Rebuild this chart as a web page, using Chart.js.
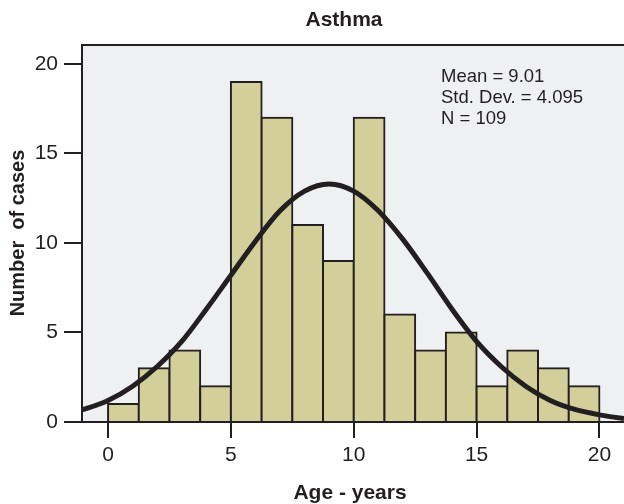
<!DOCTYPE html>
<html>
<head>
<meta charset="utf-8">
<script src="https://cdn.jsdelivr.net/npm/chart.js@4/dist/chart.umd.min.js"></script>
<style>
  html, body { margin: 0; padding: 0; background: #fff; }
  #wrap { width: 624px; height: 504px; }
</style>
</head>
<body>
<div id="wrap"><canvas id="myChart" width="624" height="504"></canvas></div>
<script>
// histogram bins (centres, width 1.25 years) and counts
var binCenters = [0.625, 1.875, 3.125, 4.375, 5.625, 6.875, 8.125, 9.375,
                  10.625, 11.875, 13.125, 14.375, 15.625, 16.875, 18.125, 19.375];
var counts = [1, 3, 4, 2, 19, 17, 11, 9, 17, 6, 4, 5, 2, 4, 3, 2];

// normal curve
var curveX = [-2, -1, 0, 1, 2, 3, 4, 5, 6, 7, 8, 9, 10, 11, 12, 13, 14, 15, 16, 17, 18, 19, 20, 21, 22];
var curveY = [0.3, 0.7, 1.2, 2.0, 3.1, 4.5, 6.3, 8.2, 10.1, 11.8, 12.9, 13.3, 12.9, 11.8, 10.2, 8.3, 6.3, 4.5, 3.1, 2.0, 1.2, 0.7, 0.4, 0.2, 0.1];

var xTicks = [0, 5, 10, 15, 20];
var yTicks = [0, 5, 10, 15, 20];
var stats = ['Mean = 9.01', 'Std. Dev. = 4.095', 'N = 109'];

var dark = '#231f20';
var font = '"Liberation Sans", Arial, sans-serif';

var barData = [];
for (var i = 0; i < binCenters.length; i++) {
    barData.push({ x: binCenters[i], y: counts[i] });
}
var lineData = [];
for (var j = 0; j < curveX.length; j++) {
    lineData.push({ x: curveX[j], y: curveY[j] });
}

const decor = {
    id: 'decor',
    beforeDraw: function(chart) {
        const ctx = chart.ctx;
        const a = chart.chartArea;
        ctx.save();
        ctx.fillStyle = '#eff0f2';
        ctx.fillRect(a.left, a.top, a.right - a.left, a.bottom - a.top);
        ctx.strokeStyle = dark;
        ctx.lineWidth = 2;
        ctx.beginPath();
        ctx.moveTo(a.left, a.top);
        ctx.lineTo(a.right, a.top);
        ctx.stroke();
        ctx.restore();
    },
    afterDraw: function(chart) {
        const ctx = chart.ctx;
        ctx.save();
        ctx.fillStyle = dark;
        ctx.textBaseline = 'middle';

        ctx.font = 'bold 21px ' + font;
        ctx.textAlign = 'center';
        ctx.fillText('Asthma', 344, 20);
        ctx.fillText('Age - years', 350, 493);

        ctx.save();
        ctx.font = 'bold 20px ' + font;
        ctx.translate(18, 233);
        ctx.rotate(-Math.PI / 2);
        ctx.fillText('Number  of cases', 0, 0);
        ctx.restore();

        ctx.font = '18.5px ' + font;
        ctx.textAlign = 'left';
        for (var k = 0; k < stats.length; k++) {
            ctx.fillText(stats[k], 441, 77 + k * 21);
        }
        ctx.restore();
    }
};

const ctx = document.getElementById('myChart').getContext('2d');
const myChart = new Chart(ctx, {
    type: 'bar',
    data: {
        datasets: [{
            type: 'line',
            data: lineData,
            borderColor: dark,
            borderWidth: 5,
            pointRadius: 0,
            fill: false,
            cubicInterpolationMode: 'monotone',
            order: 0
        }, {
            type: 'bar',
            data: barData,
            backgroundColor: '#d3cf9a',
            borderColor: dark,
            borderWidth: 2,
            inflateAmount: 1,
            barPercentage: 1,
            categoryPercentage: 1,
            order: 1
        }]
    },
    options: {
        responsive: false,
        animation: false,
        layout: { padding: { top: 45, left: 0, right: 0, bottom: 0 } },
        plugins: {
            legend: { display: false },
            title: { display: false },
            tooltip: { enabled: false }
        },
        scales: {
            x: {
                type: 'linear',
                offset: false,
                min: -1.06,
                max: 21,
                afterFit: function(scale) { scale.height = 82; },
                afterBuildTicks: function(scale) {
                    scale.ticks = xTicks.map(function(v) { return { value: v }; });
                },
                grid: {
                    offset: false,
                    drawOnChartArea: false,
                    drawTicks: true,
                    tickLength: 16,
                    color: dark,
                    lineWidth: 2
                },
                border: { display: true, color: dark, width: 2 },
                ticks: {
                    color: dark,
                    padding: 5,
                    font: { family: font, size: 21 }
                }
            },
            y: {
                min: 0,
                max: 21.06,
                afterFit: function(scale) { scale.width = 82; },
                afterBuildTicks: function(scale) {
                    scale.ticks = yTicks.map(function(v) { return { value: v }; });
                },
                grid: {
                    drawOnChartArea: false,
                    drawTicks: true,
                    tickLength: 18,
                    color: dark,
                    lineWidth: 2
                },
                border: { display: true, color: dark, width: 2 },
                ticks: {
                    color: dark,
                    padding: 6,
                    font: { family: font, size: 21 }
                }
            }
        }
    },
    plugins: [decor]
});
</script>
</body>
</html>
